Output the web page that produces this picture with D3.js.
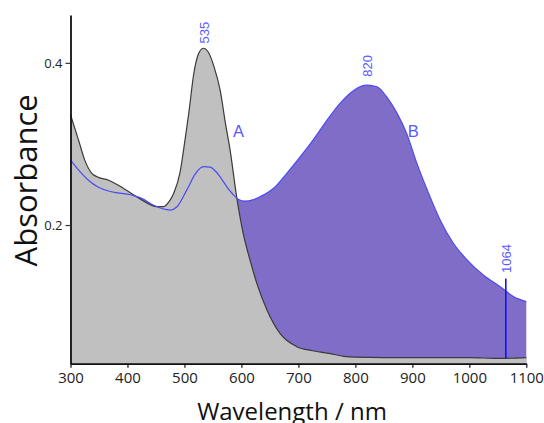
<!DOCTYPE html>
<html>
<head>
<meta charset="utf-8">
<script src="https://cdn.jsdelivr.net/npm/d3@7"></script>
<style>
  body { margin: 0; background: #fff; }
  svg { display: block; }
</style>
</head>
<body>
<div class="spectrum"></div>
<script>
// spectrum A (grey)
var wlA = [300, 314, 325, 337, 349, 366, 384, 407, 425, 440, 451, 463, 472, 481, 492, 501, 508, 516, 524, 533, 542, 552, 563, 572, 580, 592, 603, 615, 627, 645, 668, 697, 725, 756, 780, 800, 850, 900, 950, 1000, 1050, 1100];
var absA = [0.336, 0.305, 0.280, 0.264, 0.2588, 0.2555, 0.249, 0.239, 0.231, 0.225, 0.2226, 0.2226, 0.228, 0.239, 0.264, 0.305, 0.340, 0.385, 0.410, 0.418, 0.413, 0.395, 0.365, 0.325, 0.293, 0.233, 0.190, 0.157, 0.128, 0.095, 0.066, 0.050, 0.045, 0.0415, 0.038, 0.037, 0.0365, 0.0365, 0.0365, 0.0365, 0.0355, 0.0365];
// spectrum B (purple)
var wlB = [300, 314, 331, 349, 372, 407, 425, 445, 475, 487, 504, 520, 533, 545, 555, 565, 575, 585, 595, 606, 620, 633, 656, 680, 703, 726, 750, 773, 797, 820, 838, 855, 873, 890, 908, 931, 949, 972, 996, 1025, 1054, 1078, 1100];
var absB = [0.280, 0.268, 0.2555, 0.2465, 0.241, 0.237, 0.233, 0.2246, 0.2185, 0.2226, 0.243, 0.264, 0.272, 0.2715, 0.266, 0.257, 0.2465, 0.238, 0.2315, 0.2295, 0.231, 0.235, 0.245, 0.264, 0.284, 0.305, 0.329, 0.350, 0.366, 0.3725, 0.3705, 0.358, 0.338, 0.313, 0.276, 0.235, 0.206, 0.1775, 0.157, 0.138, 0.124, 0.1116, 0.1055];

var xTicks = [300, 400, 500, 600, 700, 800, 900, 1000, 1100];
var yTicks = [0.2, 0.4];

var peakLabels = ["535", "820"];
var peakWl = [535, 820];
var peakLabelAbs = [0.424, 0.383];

var curveLabels = ["A", "B"];
var curveLabelWl = [585, 892];
var curveLabelAbs = [0.309, 0.309];

var laserWl = 1064;
var laserRange = [0.0355, 0.134];
var laserLabelAbs = 0.141;

var W = 544, H = 423;
var margin = { top: 15, right: 17.7, bottom: 59.3, left: 70.5 };
var width = W - margin.left - margin.right;
var height = H - margin.top - margin.bottom;

var svg = d3.select(".spectrum").append("svg")
  .attr("width", W)
  .attr("height", H);

var chart = svg.append("g")
  .attr("transform", `translate(${margin.left},${margin.top})`);

var xScale = d3.scaleLinear().domain([300, 1100]).range([0, width]);
var yScale = d3.scaleLinear().domain([0.029, 0.459]).range([height, 0]);

var serA = wlA.map((w, i) => ({ wl: w, v: absA[i] }));
var serB = wlB.map((w, i) => ({ wl: w, v: absB[i] }));

var curve = d3.curveMonotoneX;

var area = d3.area()
  .curve(curve)
  .x(d => xScale(d.wl))
  .y0(height)
  .y1(d => yScale(d.v));

var line = d3.line()
  .curve(curve)
  .x(d => xScale(d.wl))
  .y(d => yScale(d.v));

// fills: purple first, grey over it
chart.append("path").datum(serB)
  .attr("d", area)
  .attr("fill", "#7f6dc7");
chart.append("path").datum(serA)
  .attr("d", area)
  .attr("fill", "#c0c0c0");

chart.append("path").datum(serA)
  .attr("d", line)
  .attr("fill", "none")
  .attr("stroke", "#3a3a3a")
  .attr("stroke-width", 1.2);
chart.append("path").datum(serB)
  .attr("d", line)
  .attr("fill", "none")
  .attr("stroke", "#4a4af5")
  .attr("stroke-width", 1.2);

// 1064 nm marker
chart.append("line")
  .attr("x1", xScale(laserWl)).attr("x2", xScale(laserWl))
  .attr("y1", yScale(laserRange[0])).attr("y2", yScale(laserRange[1]))
  .attr("stroke", "#1010ff")
  .attr("stroke-width", 1.6);

var labelFont = "'Liberation Sans', Arial, sans-serif";
var labelColor = "#5a5aff";

chart.append("text")
  .attr("transform", `translate(${xScale(laserWl) + 5},${yScale(laserLabelAbs)}) rotate(-90)`)
  .attr("font-family", labelFont)
  .attr("font-size", 13)
  .attr("fill", labelColor)
  .text(laserWl);

chart.selectAll(".peak")
  .data(peakLabels)
  .enter()
  .append("text")
  .attr("class", "peak")
  .attr("transform", (d, i) => `translate(${xScale(peakWl[i]) + 5},${yScale(peakLabelAbs[i])}) rotate(-90)`)
  .attr("font-family", labelFont)
  .attr("font-size", 13)
  .attr("fill", labelColor)
  .text(d => d);

chart.selectAll(".curvelabel")
  .data(curveLabels)
  .enter()
  .append("text")
  .attr("class", "curvelabel")
  .attr("x", (d, i) => xScale(curveLabelWl[i]))
  .attr("y", (d, i) => yScale(curveLabelAbs[i]))
  .attr("font-family", labelFont)
  .attr("font-size", 16.5)
  .attr("fill", labelColor)
  .text(d => d);

// axes
var xAxis = d3.axisBottom(xScale).tickValues(xTicks).tickSize(4).tickSizeOuter(0).tickPadding(5).tickFormat(d3.format("d"));
var yAxis = d3.axisLeft(yScale).tickValues(yTicks).tickSize(5).tickSizeOuter(0).tickPadding(3).tickFormat(d3.format(".1f"));

var gx = chart.append("g")
  .attr("transform", `translate(0,${height})`)
  .call(xAxis);
gx.select(".domain").attr("stroke", "#111").attr("stroke-width", 1.8);
gx.selectAll(".tick line").attr("stroke", "#111").attr("stroke-width", 1.2);
gx.selectAll(".tick text")
  .attr("font-family", "'Open Sans', sans-serif")
  .attr("font-size", 15)
  .attr("fill", "#222");

var gy = chart.append("g").call(yAxis);
gy.select(".domain").attr("stroke", "#111").attr("stroke-width", 1.8);
gy.selectAll(".tick line").attr("stroke", "#333").attr("stroke-width", 1.2);
gy.selectAll(".tick text")
  .attr("font-family", "'Open Sans', sans-serif")
  .attr("font-size", 13)
  .attr("fill", "#222");

svg.append("text")
  .attr("transform", `translate(37,${margin.top + height / 2 - 9}) rotate(-90)`)
  .attr("text-anchor", "middle")
  .attr("font-family", "'Open Sans', sans-serif")
  .attr("font-size", 31)
  .attr("fill", "#111")
  .text("Absorbance");

svg.append("text")
  .attr("x", 292)
  .attr("y", 420)
  .attr("text-anchor", "middle")
  .attr("font-family", "'Open Sans', sans-serif")
  .attr("font-size", 24)
  .attr("fill", "#111")
  .text("Wavelength / nm");
</script>
</body>
</html>
